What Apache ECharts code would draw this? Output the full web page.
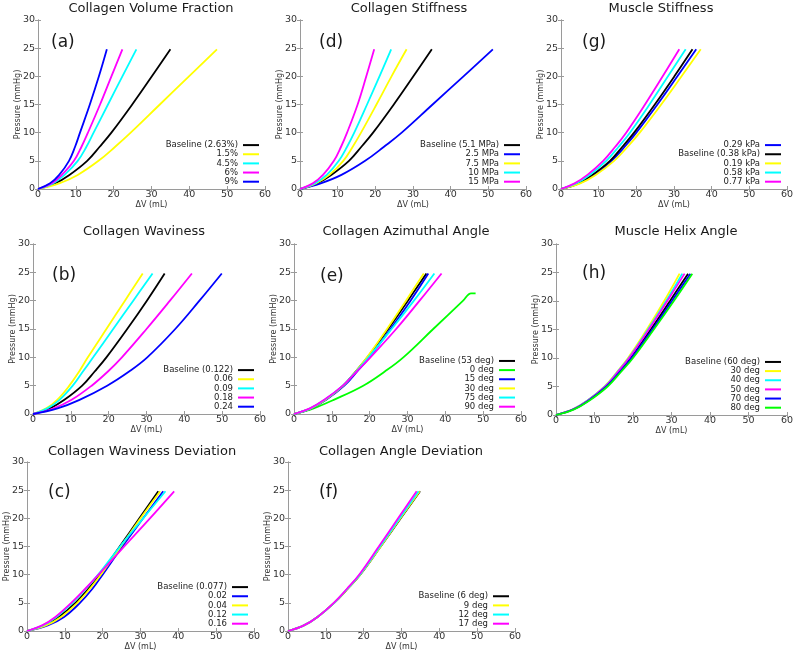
<!DOCTYPE html>
<html><head><meta charset="utf-8">
<script src="https://cdn.jsdelivr.net/npm/echarts@6/dist/echarts.min.js"></script>
<style>html,body{margin:0;padding:0;background:#fff}#c{width:800px;height:653px}</style>
</head><body><div id="c"></div>
<script>
// Shared pressure levels (mmHg) at which the ΔV (mL) of each curve was read
const pressureLevels = [0, 1, 2.5, 5, 7.5, 10, 15, 20, 24.8];
const pressureLevelsE0deg = [0, 1, 2.5, 5, 7.5, 10, 15, 20, 21.3, 21.3];
const xRange = [0, 60, 10];
const yRange = [0, 30, 5];

// (a) Collagen Volume Fraction
const aLabels = ['Baseline (2.63%)', '1.5%', '4.5%', '6%', '9%'];
const aBaseline = [0, 4.5, 8.3, 13, 16.3, 19.4, 24.9, 30.1, 35];
const a1p5 = [0, 5.6, 10.5, 16, 20.4, 24.5, 32.2, 39.9, 47.3];
const a4p5 = [0, 4, 7, 10.5, 12.8, 14.7, 18.5, 22.3, 26];
const a6 = [0, 3.6, 6.3, 9.5, 11.5, 13.2, 16.4, 19.4, 22.3];
const a9 = [0, 3.2, 5.6, 8.2, 9.8, 11.1, 13.7, 16.1, 18.2];

// (d) Collagen Stiffness
const dLabels = ['Baseline (5.1 MPa)', '2.5 MPa', '7.5 MPa', '10 MPa', '15 MPa'];
const dBaseline = [0, 4.5, 8.3, 13, 16.3, 19.4, 24.9, 30.1, 35];
const d2p5 = [0, 5.5, 11, 17.3, 22.3, 27, 35.2, 43.4, 51.2];
const d7p5 = [0, 4.2, 7.8, 11.5, 14, 16.2, 20.3, 24.3, 28.3];
const d10 = [0, 3.9, 7.1, 10.3, 12.5, 14.4, 17.8, 21.1, 24.2];
const d15 = [0, 3.4, 6.1, 9, 10.9, 12.5, 15.3, 17.6, 19.7];

// (g) Muscle Stiffness
const gLabels = ['0.29 kPa', 'Baseline (0.38 kPa)', '0.19 kPa', '0.58 kPa', '0.77 kPa'];
const g029 = [0, 4.8, 8.7, 13.4, 16.9, 20, 25.6, 30.9, 35.9];
const gBaseline = [0, 4.5, 8.3, 13, 16.3, 19.4, 24.9, 30.1, 34.9];
const g019 = [0, 5.1, 9.2, 14.1, 17.7, 20.9, 26.6, 32, 37.1];
const g058 = [0, 4, 7.6, 12, 15.3, 18.3, 23.5, 28.4, 33.1];
const g077 = [0, 3.6, 7, 11.2, 14.4, 17.3, 22.3, 27, 31.4];

// (b) Collagen Waviness
const bLabels = ['Baseline (0.122)', '0.06', '0.09', '0.18', '0.24'];
const bBaseline = [0, 4.5, 8.3, 13, 16.3, 19.4, 24.9, 30.1, 34.8];
const b006 = [0, 3.5, 6.4, 9.6, 12.2, 14.5, 19.4, 24.3, 29];
const b009 = [0, 3.8, 7, 10.5, 13.2, 15.9, 21.2, 26.5, 31.6];
const b018 = [0, 5.5, 10.2, 15.5, 19.8, 23.5, 30, 36.2, 42];
const b024 = [0, 6.5, 12.3, 19.6, 25.4, 30.2, 37.6, 44, 49.9];

// (e) Collagen Azimuthal Angle
const eLabels = ['Baseline (53 deg)', '0 deg', '15 deg', '30 deg', '75 deg', '90 deg'];
const eBaseline = [0, 4.5, 8.3, 13, 16.3, 19.4, 24.9, 30.1, 35];
const e0 = [0, 5.2, 10.5, 18.3, 24, 28.9, 36.8, 44.7, 46.8, 48];
const e15 = [0, 4.6, 8.5, 13.3, 16.7, 19.9, 25.5, 30.8, 35.5];
const e30 = [0, 4.5, 8.3, 13, 16.3, 19.3, 24.6, 29.6, 34.3];
const e75 = [0, 4.3, 8.1, 12.9, 16.4, 19.7, 25.8, 31.7, 37.1];
const e90 = [0, 4.2, 8, 12.9, 16.6, 20.2, 27, 33.2, 39];

// (h) Muscle Helix Angle
const hLabels = ['Baseline (60 deg)', '30 deg', '40 deg', '50 deg', '70 deg', '80 deg'];
const hBaseline = [0, 4.5, 8.3, 13, 16.3, 19.3, 24.6, 29.6, 34.3];
const h30 = [0, 4.4, 8.1, 12.6, 15.8, 18.7, 23.6, 28.1, 32.1];
const h40 = [0, 4.4, 8.1, 12.7, 15.9, 18.9, 23.9, 28.6, 32.8];
const h50 = [0, 4.4, 8.2, 12.8, 16, 19, 24.1, 28.9, 33.4];
const h70 = [0, 4.6, 8.4, 13.1, 16.5, 19.6, 25, 30.1, 34.9];
const h80 = [0, 4.7, 8.6, 13.4, 16.8, 20, 25.4, 30.6, 35.4];

// (c) Collagen Waviness Deviation
const cLabels = ['Baseline (0.077)', '0.02', '0.04', '0.12', '0.16'];
const cBaseline = [0, 4.6, 8.4, 12.8, 16.2, 19.2, 24.5, 29.7, 34.7];
const c002 = [0, 5.5, 9.8, 14, 17.3, 20, 25.2, 30.7, 36];
const c004 = [0, 5, 9, 13.3, 16.6, 19.5, 24.8, 30, 35.2];
const c012 = [0, 4.2, 7.8, 12, 15.6, 18.8, 24.6, 30.7, 36.6];
const c016 = [0, 4, 7.5, 11.7, 15.4, 18.9, 25.7, 32.5, 38.9];

// (f) Collagen Angle Deviation
const fLabels = ['Baseline (6 deg)', '9 deg', '12 deg', '17 deg'];
const fBaseline = [0, 4.2, 7.8, 12.2, 15.8, 19.1, 24.5, 29.8, 34.9];
const f9 = [0, 4.2, 7.8, 12.2, 15.8, 19.1, 24.5, 29.7, 34.8];
const f12 = [0, 4.2, 7.8, 12.2, 15.7, 19, 24.3, 29.5, 34.5];
const f17 = [0, 4.2, 7.8, 12.1, 15.6, 18.8, 24, 29.1, 34];

// ---- styles / layout (kept apart from data) ----
const K = '#000000', Y = '#ffff00', C = '#00ffff', M = '#ff00ff', B = '#0000ff', G = '#00ff00';
const panels = [
  {key:'a', title:'Collagen Volume Fraction', tx:151, ty:9, lx:51, ly:43,
   grid:{left:38, top:20, width:227, height:169}, labels:aLabels,
   curves:[aBaseline, a1p5, a4p5, a6, a9], colors:[K, Y, C, M, B]},
  {key:'d', title:'Collagen Stiffness', tx:409, ty:9, lx:319, ly:43,
   grid:{left:300, top:20, width:226, height:169}, labels:dLabels,
   curves:[dBaseline, d2p5, d7p5, d10, d15], colors:[K, B, Y, C, M]},
  {key:'g', title:'Muscle Stiffness', tx:661, ty:9, lx:582, ly:43,
   grid:{left:561, top:20, width:226, height:169}, labels:gLabels,
   curves:[g029, gBaseline, g019, g058, g077], colors:[B, K, Y, C, M]},
  {key:'b', title:'Collagen Waviness', tx:144, ty:232, lx:52, ly:276,
   grid:{left:33, top:244, width:227, height:170}, labels:bLabels,
   curves:[bBaseline, b006, b009, b018, b024], colors:[K, Y, C, M, B]},
  {key:'e', title:'Collagen Azimuthal Angle', tx:406, ty:232, lx:320, ly:277,
   grid:{left:294, top:244, width:227, height:170}, labels:eLabels,
   curves:[eBaseline, e0, e15, e30, e75, e90], colors:[K, G, B, Y, C, M],
   pressures:[null, pressureLevelsE0deg]},
  {key:'h', title:'Muscle Helix Angle', tx:676, ty:232, lx:582, ly:274,
   grid:{left:556, top:244, width:231, height:171}, labels:hLabels,
   curves:[hBaseline, h30, h40, h50, h70, h80], colors:[K, Y, C, M, B, G]},
  {key:'c', title:'Collagen Waviness Deviation', tx:142, ty:452, lx:48, ly:493,
   grid:{left:27, top:462, width:227, height:169}, labels:cLabels,
   curves:[cBaseline, c002, c004, c012, c016], colors:[K, B, Y, C, M]},
  {key:'f', title:'Collagen Angle Deviation', tx:401, ty:452, lx:319, ly:493,
   grid:{left:288, top:462, width:227, height:169}, labels:fLabels,
   curves:[fBaseline, f9, f12, f17], colors:[K, Y, C, M]}
];

const FONT = 'DejaVu Sans';
const FRAME = '#9a9a9a';
const option = {
  animation:false,
  backgroundColor:'#ffffff',
  textStyle:{fontFamily:FONT},
  title:[], grid:[], xAxis:[], yAxis:[], legend:[], series:[]
};

panels.forEach((p, i) => {
  const g = p.grid;
  option.grid.push({left:g.left, top:g.top, width:g.width, height:g.height,
    show:false, outerBoundsMode:'none', containLabel:false});
  option.title.push({text:p.title, left:p.tx, top:p.ty, textAlign:'center', textVerticalAlign:'middle',
    padding:0, textStyle:{fontFamily:FONT, fontSize:13, fontWeight:'normal', color:'#1a1a1a'}});
  option.title.push({text:'(' + p.key + ')', left:p.lx, top:p.ly, textAlign:'left', textVerticalAlign:'middle',
    padding:0, textStyle:{fontFamily:FONT, fontSize:17, fontWeight:'normal', color:'#1a1a1a'}});
  const axLine = {show:true, lineStyle:{color:FRAME, width:1}};
  const axTick = {show:true, inside:true, length:3, lineStyle:{color:FRAME}};
  const lbl = {fontFamily:FONT, fontSize:9.5, color:'#333'};
  option.xAxis.push({gridIndex:i, type:'value', position:'bottom', min:xRange[0], max:xRange[1], interval:xRange[2],
    axisLine:axLine, axisTick:axTick, splitLine:{show:false},
    axisLabel:Object.assign({margin:1}, lbl),
    name:'ΔV (mL)', nameLocation:'middle', nameGap:11.5, nameMoveOverlap:false,
    nameTextStyle:{fontFamily:FONT, fontSize:8, color:'#333'}});
  option.xAxis.push({gridIndex:i, type:'value', position:'top', min:xRange[0], max:xRange[1], interval:xRange[2],
    axisLine:axLine, axisTick:axTick, splitLine:{show:false}, axisLabel:{show:false}});
  option.yAxis.push({gridIndex:i, type:'value', position:'left', min:yRange[0], max:yRange[1], interval:yRange[2],
    axisLine:axLine, axisTick:axTick, splitLine:{show:false},
    axisLabel:Object.assign({margin:3}, lbl),
    name:'Pressure (mmHg)', nameLocation:'middle', nameGap:16, nameRotate:90, nameMoveOverlap:false,
    nameTextStyle:{fontFamily:FONT, fontSize:8, color:'#333'}});
  option.yAxis.push({gridIndex:i, type:'value', position:'right', min:yRange[0], max:yRange[1], interval:yRange[2],
    axisLine:axLine, axisTick:axTick, splitLine:{show:false}, axisLabel:{show:false}});

  const n = p.curves.length;
  const plotRight = g.left + g.width, plotBottom = g.top + g.height;
  p.curves.forEach((vols, k) => {
    const pres = (p.pressures && p.pressures[k]) || pressureLevels;
    const name = p.key + '|' + p.labels[k];
    option.series.push({
      type:'line', name:name, xAxisIndex:2*i, yAxisIndex:2*i,
      data: vols.map((v, j) => [v, pres[j]]),
      showSymbol:false, symbol:'none', smooth:0.4,
      color:p.colors[k], lineStyle:{color:p.colors[k], width:1.8},
      silent:true
    });
    const rowCenter = plotBottom - 7.3 - (n - 1 - k) * 9.15;
    option.legend.push({
      data:[name], orient:'vertical', align:'right', icon:'rect',
      right: 800 - (plotRight - 6), top: rowCenter - 4.5, padding:0,
      itemWidth:16, itemHeight:2, itemGap:0, selectedMode:false,
      formatter: s => s.split('|')[1],
      textStyle:{fontFamily:FONT, fontSize:8.5, color:'#222', lineHeight:9}
    });
  });
});

const chart = echarts.init(document.getElementById('c'), null, {renderer:'canvas'});
chart.setOption(option);
</script>
</body></html>
